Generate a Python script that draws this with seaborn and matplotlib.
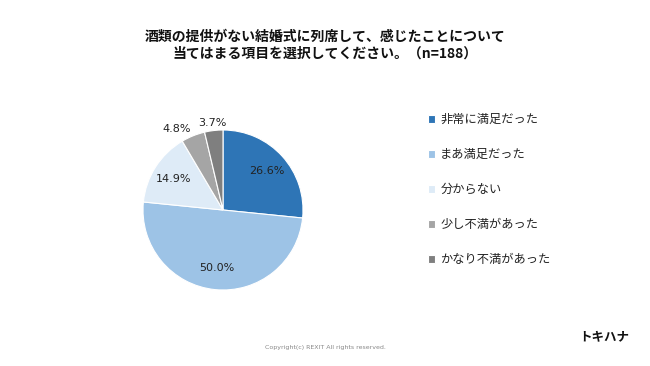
import matplotlib
matplotlib.use("Agg")
import matplotlib.pyplot as plt
import seaborn as sns
import numpy as np

categories = ["非常に満足だった", "まあ満足だった", "分からない", "少し不満があった", "かなり不満があった"]
values = [26.6, 50.0, 14.9, 4.8, 3.7]
colors = ["#2E75B6", "#9DC3E6", "#DEEBF7", "#A5A5A5", "#7F7F7F"]
title = "酒類の提供がない結婚式に列席して、感じたことについて\n当てはまる項目を選択してください。（n=188）"

sns.set_theme(style="white")
plt.rcParams['font.family'] = ['Noto Sans CJK JP', 'DejaVu Sans']

fig = plt.figure(figsize=(6.5, 3.66), dpi=100)
fig.patch.set_facecolor("white")
W, H = 650, 366
cx, cy, r = 223, 210, 80
ax = fig.add_axes([(cx - r) / W, (H - cy - r) / H, 2 * r / W, 2 * r / H])

wedges, texts, autotexts = ax.pie(
    values, colors=sns.color_palette(colors), startangle=90, counterclock=False,
    autopct=lambda p: f"{p:.1f}%", pctdistance=0.73, radius=1,
    wedgeprops=dict(edgecolor="white", linewidth=0.8),
    textprops=dict(fontsize=8, color="#222222", family="DejaVu Sans"))
ax.set_xlim(-1, 1)
ax.set_ylim(-1, 1)
ax.set_aspect("equal")

# move small-slice labels outside
cum = np.cumsum([0] + values)
for i, t in enumerate(autotexts):
    if values[i] < 10:
        mid = np.deg2rad(90 - (cum[i] + values[i] / 2) * 3.6)
        d = 1.14
        x, y = d * np.cos(mid), d * np.sin(mid)
        if values[i] > 4:
            x -= 0.15
        t.set_position((x, y - 0.04))

fig.text(0.5, 1 - 45 / H, title, ha="center", va="center", fontsize=10,
         fontweight="bold", linespacing=1.22, color="#111111")

leg = fig.legend(wedges, categories, loc="upper left",
                 bbox_to_anchor=(417 / W, 1 - 102 / H), frameon=False,
                 fontsize=8.8, handlelength=0.6, handleheight=0.6,
                 handletextpad=0.4, labelspacing=1.8)
for tx in leg.get_texts():
    tx.set_color("#222222")

fig.text(325 / W, 1 - 347 / H, "Copyright(c) REXIT All rights reserved.",
         ha="center", va="center", fontsize=4.5, color="#888888",
         family="DejaVu Sans")
fig.text(604 / W, 1 - 337 / H, "トキハナ", ha="center", va="center",
         fontsize=9, color="#111111", fontweight="bold")

fig.savefig("out.png", dpi=100, facecolor="white")
